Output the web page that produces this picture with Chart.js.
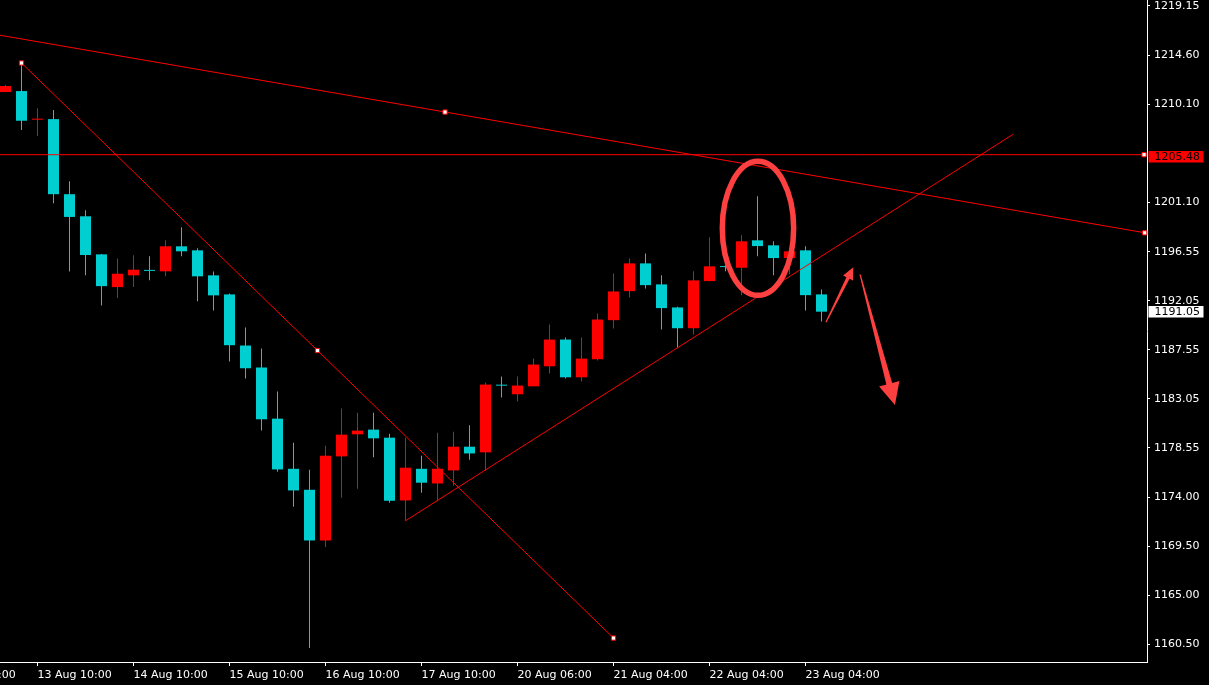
<!DOCTYPE html>
<html>
<head>
<meta charset="utf-8">
<script src="https://cdn.jsdelivr.net/npm/chart.js@4.4.1/dist/chart.umd.min.js"></script>
<style>
    html, body { margin: 0; padding: 0; background: #000; }
    canvas { display: block; }
</style>
</head>
<body>
<canvas id="chart" width="1209" height="685"></canvas>
<script>
// Velas H4 (abertura, máxima, mínima, fecho)
const opens  = [1211.24, 1211.33, 1208.70, 1208.75, 1201.85, 1199.82, 1196.32, 1193.31, 1194.39, 1194.84,
                1194.76, 1197.06, 1196.69, 1194.39, 1192.64, 1187.94, 1185.92, 1181.22, 1176.61, 1174.68,
                1170.02, 1177.75, 1179.78, 1180.21, 1179.47, 1173.70, 1176.61, 1175.26, 1176.46, 1178.64,
                1178.12, 1184.30, 1183.46, 1184.19, 1186.03, 1188.49, 1185.02, 1186.68, 1190.27, 1192.94,
                1195.49, 1193.56, 1191.44, 1189.53, 1193.86, 1195.20, 1195.09, 1197.61, 1197.15, 1195.98,
                1196.69, 1192.64];
const highs  = [1211.88, 1213.91, 1209.76, 1209.58, 1203.04, 1200.37, 1196.35, 1195.93, 1196.23, 1196.14,
                1197.61, 1198.81, 1196.87, 1194.75, 1192.73, 1189.60, 1187.67, 1183.71, 1179.01, 1176.52,
                1178.73, 1182.14, 1181.77, 1181.77, 1179.84, 1179.47, 1177.81, 1179.93, 1180.02, 1180.62,
                1184.53, 1185.09, 1185.09, 1186.74, 1189.88, 1188.68, 1188.68, 1190.89, 1194.57, 1195.95,
                1196.41, 1194.39, 1191.50, 1194.76, 1197.89, 1195.31, 1198.07, 1201.66, 1197.52, 1196.60,
                1197.06, 1193.10];
const lows   = [1211.24, 1207.74, 1207.19, 1201.02, 1194.75, 1194.39, 1191.63, 1192.30, 1193.31, 1193.93,
                1194.30, 1196.14, 1192.00, 1191.16, 1186.48, 1184.90, 1180.12, 1176.34, 1173.12, 1160.14,
                1169.43, 1173.94, 1174.77, 1177.67, 1173.49, 1171.83, 1174.41, 1173.67, 1175.05, 1177.44,
                1176.43, 1183.16, 1182.79, 1184.19, 1185.36, 1184.90, 1184.63, 1186.56, 1189.51, 1192.36,
                1193.19, 1189.42, 1187.76, 1188.96, 1193.84, 1194.77, 1192.55, 1196.14, 1194.39, 1194.48,
                1191.16, 1190.15];
const closes = [1211.79, 1208.60, 1208.75, 1201.85, 1199.76, 1196.26, 1193.40, 1194.54, 1194.91, 1194.80,
                1197.06, 1196.60, 1194.30, 1192.55, 1187.97, 1185.85, 1181.16, 1176.55, 1174.62, 1170.02,
                1177.81, 1179.75, 1180.12, 1179.41, 1173.67, 1176.71, 1175.33, 1176.61, 1178.64, 1178.02,
                1184.35, 1184.25, 1184.26, 1186.19, 1188.49, 1185.02, 1186.74, 1190.33, 1192.91, 1195.49,
                1193.49, 1191.38, 1189.53, 1193.93, 1195.22, 1195.15, 1197.52, 1197.08, 1195.98, 1196.60,
                1192.57, 1191.05];

// Eixo do tempo (índice da vela → rótulo)
const xTickIndex  = [-4, 2, 8, 14, 20, 26, 32, 38, 44, 50];
const xTickLabels = ['10 Aug 10:00', '13 Aug 10:00', '14 Aug 10:00', '15 Aug 10:00', '16 Aug 10:00',
                     '17 Aug 10:00', '20 Aug 06:00', '21 Aug 04:00', '22 Aug 04:00', '23 Aug 04:00'];

// Eixo de preço
const yTickValues = [1219.15, 1214.60, 1210.10, 1201.10, 1196.55, 1192.05, 1187.55,
                     1183.05, 1178.55, 1174.00, 1169.50, 1165.00, 1160.50];
const yTickLabels = ['1219.15', '1214.60', '1210.10', '1201.10', '1196.55', '1192.05', '1187.55',
                     '1183.05', '1178.55', '1174.00', '1169.50', '1165.00', '1160.50'];

// Linhas desenhadas (índice, preço)
const levelPrice = 1205.48;
const lastPrice = 1191.05;
const upperTrend = [[-0.344, 1216.46], [71.344, 1198.27]];
const fallTrend  = [[1, 1213.91], [38, 1161.05]];
const riseTrend  = [[25, 1171.83], [63, 1207.38]];
const anchorPoints = [[1, 1213.91], [19.5, 1187.48], [38, 1161.05], [27.47, 1209.40], [71.2, 1198.30], [71.16, 1205.48]];

const X_MIN = -0.34375;
const X_MAX = 71.34375;
const Y_MIN = 1158.85;
const Y_MAX = 1219.70;

const BULL = '#ff0000';
const BEAR = '#00ced1';
const MARK = '#ff4040';
const FONT = { family: 'DejaVu Sans', size: 11 };

const candleColors = opens.map((o, i) => closes[i] >= o ? BULL : BEAR);
const toPoints = arr => arr.map(p => ({ x: p[0], y: p[1] }));

function drawArrow(ctx, x0, y0, x1, y1, headLen, headW, shaftW) {
    const len = Math.hypot(x1 - x0, y1 - y0);
    const ux = (x1 - x0) / len, uy = (y1 - y0) / len;
    const nx = -uy, ny = ux;
    const bx = x1 - ux * headLen, by = y1 - uy * headLen;
    ctx.beginPath();
    ctx.moveTo(x0 + nx * 0.6, y0 + ny * 0.6);
    ctx.lineTo(bx + nx * shaftW / 2, by + ny * shaftW / 2);
    ctx.lineTo(bx + nx * headW / 2, by + ny * headW / 2);
    ctx.lineTo(x1, y1);
    ctx.lineTo(bx - nx * headW / 2, by - ny * headW / 2);
    ctx.lineTo(bx - nx * shaftW / 2, by - ny * shaftW / 2);
    ctx.lineTo(x0 - nx * 0.6, y0 - ny * 0.6);
    ctx.closePath();
    ctx.fill();
}

function priceBox(ctx, yScale, price, bg, dy) {
    const y = yScale.getPixelForValue(price) + dy;
    ctx.fillStyle = bg;
    ctx.fillRect(yScale.left + 1.5, Math.round(y - 5.5), 55, 11.5);
    ctx.fillStyle = '#000';
    ctx.font = '11px "DejaVu Sans"';
    ctx.textAlign = 'left';
    ctx.textBaseline = 'middle';
    ctx.fillText(price.toFixed(2), yScale.left + 7.5, Math.round(y - 5.5) + 6.5);
}

const decor = {
    id: 'decor',
    beforeDraw(chart) {
        const ctx = chart.ctx;
        ctx.save();
        ctx.fillStyle = '#000';
        ctx.fillRect(0, 0, chart.width, chart.height);
        ctx.restore();
    },
    afterDatasetsDraw(chart) {
        const ctx = chart.ctx;
        const xs = chart.scales.x, ys = chart.scales.y;
        const px = v => xs.getPixelForValue(v);
        const py = v => ys.getPixelForValue(v);
        ctx.save();
        // elipse à volta da vela com sombra longa
        const cx = px(47.03), cy = py(1198.71);
        ctx.strokeStyle = MARK;
        ctx.lineWidth = 5.5;
        ctx.beginPath();
        ctx.ellipse(cx, cy, px(47.03 + 2.23) - cx, cy - py(1198.71 + 6.16), 0, 0, Math.PI * 2);
        ctx.stroke();
        // setas
        ctx.fillStyle = MARK;
        drawArrow(ctx, px(51.28), py(1190.07), px(52.99), py(1195.13), 12, 11, 3.5);
        drawArrow(ctx, px(53.41), py(1194.48), px(55.59), py(1182.47), 22, 21, 6);
        ctx.restore();
    },
    afterDraw(chart) {
        const ctx = chart.ctx;
        const ys = chart.scales.y;
        ctx.save();
        priceBox(ctx, ys, levelPrice, '#ff0000', 2);
        priceBox(ctx, ys, lastPrice, '#ffffff', 0);
        ctx.restore();
    }
};

function lineSet(points) {
    return {
        type: 'line',
        data: toPoints(points),
        borderColor: '#ff0000',
        borderWidth: 1,
        pointRadius: 0,
        order: 0
    };
}

new Chart(document.getElementById('chart'), {
    type: 'bar',
    data: {
        datasets: [
            {
                label: 'wicks',
                data: opens.map((_, i) => ({ x: i, y: [lows[i], highs[i]] })),
                backgroundColor: candleColors,
                barThickness: 1,
                grouped: false,
                inflateAmount: 0,
                order: 3
            },
            {
                label: 'bodies',
                data: opens.map((o, i) => ({ x: i, y: [o, closes[i]] })),
                backgroundColor: candleColors,
                barThickness: 11,
                minBarLength: 1,
                grouped: false,
                inflateAmount: 0,
                order: 2
            },
            lineSet(upperTrend),
            lineSet(fallTrend),
            lineSet(riseTrend),
            lineSet([[X_MIN, levelPrice], [X_MAX, levelPrice]]),
            {
                type: 'line',
                data: toPoints(anchorPoints),
                showLine: false,
                pointStyle: 'rect',
                pointRadius: 3,
                pointBackgroundColor: '#ffffff',
                pointBorderColor: '#ff0000',
                pointBorderWidth: 1,
                clip: false,
                order: -1
            }
        ]
    },
    options: {
        responsive: false,
        animation: false,
        devicePixelRatio: 1,
        layout: { padding: 0, autoPadding: false },
        plugins: {
            legend: { display: false },
            tooltip: { enabled: false }
        },
        scales: {
            x: {
                type: 'linear',
                min: X_MIN,
                max: X_MAX,
                offset: false,
                grid: { drawOnChartArea: false, drawTicks: true, tickLength: 4, color: '#ffffff', offset: false },
                border: { display: true, color: '#ffffff' },
                ticks: {
                    color: '#ffffff',
                    font: FONT,
                    align: 'start',
                    padding: 3,
                    autoSkip: false,
                    maxRotation: 0,
                    callback: (v, i) => xTickLabels[i]
                },
                afterBuildTicks: s => { s.ticks = xTickIndex.map(v => ({ value: v })); },
                afterFit: s => { s.height = 23; s.paddingLeft = 0; s.paddingRight = 0; }
            },
            y: {
                position: 'right',
                min: Y_MIN,
                max: Y_MAX,
                beginAtZero: false,
                grid: { drawOnChartArea: false, drawTicks: true, tickLength: 3, color: '#ffffff' },
                border: { display: true, color: '#ffffff' },
                ticks: {
                    color: '#ffffff',
                    font: FONT,
                    padding: 4,
                    callback: (v, i) => yTickLabels[i]
                },
                afterBuildTicks: s => { s.ticks = yTickValues.map(v => ({ value: v })); },
                afterFit: s => { s.width = 62; s.paddingTop = 0; s.paddingBottom = 0; }
            }
        }
    },
    plugins: [decor]
});
</script>
</body>
</html>
